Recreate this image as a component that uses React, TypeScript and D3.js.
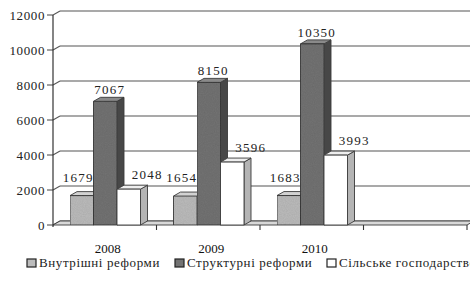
import React from "react";
import * as d3 from "d3";

const categories = ["2008", "2009", "2010", ""];
const seriesNames = ["Внутрішні реформи", "Структурні реформи", "Сільське господарство"];
const internalReforms = [1679, 1654, 1683, null];
const structuralReforms = [7067, 8150, 10350, null];
const agriculture = [2048, 3596, 3993, null];
const yTicks = [0, 2000, 4000, 6000, 8000, 10000, 12000];

const W = 470, H = 281;
const DX = 7, DY = -4;

const styles = [
  { front: "#bcbcbc", side: "#8c8c8c", top: "#d2d2d2", lx: -7, ly: -10 },
  { front: "#737373", side: "#474747", top: "#8a8a8a", lx: 1, ly: -3 },
  { front: "#ffffff", side: "#b4b4b4", top: "#eeeeee", lx: 15, ly: -6 },
];

const font = "Liberation Serif, DejaVu Serif, Times New Roman, serif";

export default function App() {
  const series = [internalReforms, structuralReforms, agriculture];
  const x = d3.scaleBand<string>().domain(categories.map((c, i) => c + "|" + i)).range([53, 467]).padding(0);
  const y = d3.scaleLinear().domain([0, 12000]).range([225, 15]);
  const bw = x.bandwidth();
  const inner = d3.scaleBand<number>().domain([0, 1, 2]).range([17, bw - 16]).padding(0);
  const keys = x.domain();
  const stroke = "#3a3a3a";

  const bars: React.ReactNode[] = [];
  const labels: React.ReactNode[] = [];
  keys.forEach((k, ci) => {
    series.forEach((vals, si) => {
      const v = vals[ci];
      if (v == null) return;
      const x0 = (x(k) as number) + (inner(si) as number);
      const w = inner.bandwidth();
      const y0 = y(0), y1 = y(v);
      const st = styles[si];
      bars.push(
        <g key={`b${ci}-${si}`} stroke={stroke} strokeWidth={0.9} strokeLinejoin="round">
          <polygon points={`${x0 + w},${y0} ${x0 + w + DX},${y0 + DY} ${x0 + w + DX},${y1 + DY} ${x0 + w},${y1}`} fill={st.side} />
          <polygon points={`${x0},${y1} ${x0 + w},${y1} ${x0 + w + DX},${y1 + DY} ${x0 + DX},${y1 + DY}`} fill={st.top} />
          <rect x={x0} y={y1} width={w} height={y0 - y1} fill={st.front} filter={si < 2 ? "url(#grain)" : undefined} />
        </g>
      );
      labels.push(
        <text key={`l${ci}-${si}`} x={x0 + w / 2 + DX / 2 + st.lx} y={y1 + DY + st.ly}
          textAnchor="middle" fontSize={13} letterSpacing={1.2} fill="#222" style={{ fontFamily: font }}>{v}</text>
      );
    });
  });

  const legendX = [27, 175, 327];

  return (
    <svg width={W} height={H} style={{ position: "absolute", left: 0, top: 0, background: "#fff", fontFamily: font }}>
      <defs>
        <filter id="grain" x="0" y="0" width="100%" height="100%">
          <feTurbulence type="fractalNoise" baseFrequency="0.9" numOctaves={2} seed={3} result="n" />
          <feColorMatrix in="n" type="matrix" values="0 0 0 0 0  0 0 0 0 0  0 0 0 0 0  0 0 0 0.18 0" result="a" />
          <feComposite in="a" in2="SourceGraphic" operator="in" result="b" />
          <feMerge>
            <feMergeNode in="SourceGraphic" />
            <feMergeNode in="b" />
          </feMerge>
        </filter>
      </defs>
      {yTicks.map((t) => (
        <g key={t} stroke="#555" strokeWidth={1.1} fill="none">
          <line x1={53 + DX} x2={W + 5} y1={y(t) + DY} y2={y(t) + DY} />
          <line x1={53} x2={53 + DX} y1={y(t)} y2={y(t) + DY} />
          <line x1={47} x2={53} y1={y(t)} y2={y(t)} />
        </g>
      ))}
      {yTicks.map((t) => (
        <text key={"t" + t} x={45} y={y(t) + 4.5} textAnchor="end" fontSize={13} letterSpacing={0.6}
          fill="#222" style={{ fontFamily: font }}>{t}</text>
      ))}
      <polygon points={`53,${y(0)} ${467},${y(0)} ${467 + DX},${y(0) + DY} ${53 + DX},${y(0) + DY}`}
        fill="#d8d8d8" stroke={stroke} strokeWidth={0.9} />
      <line x1={53} x2={53} y1={y(12000)} y2={y(0) + 2} stroke="#333" strokeWidth={1.2} />
      {keys.map((k) => (
        <line key={"xt" + k} x1={(x(k) as number) + bw} x2={(x(k) as number) + bw} y1={y(0)} y2={y(0) + 5}
          stroke="#333" strokeWidth={1.1} />
      ))}
      {bars}
      {labels}
      {keys.map((k, i) => (
        <text key={"c" + k} x={(x(k) as number) + bw / 2 + 3} y={253} textAnchor="middle" fontSize={13}
          fill="#111" style={{ fontFamily: font }}>{categories[i]}</text>
      ))}
      {seriesNames.map((n, i) => (
        <g key={n}>
          <rect x={legendX[i]} y={259} width={9} height={8} fill={styles[i].front} stroke="#222" strokeWidth={1.2} />
          <text x={legendX[i] + 12} y={267} fontSize={13} letterSpacing={0.6} fill="#222" style={{ fontFamily: font }}>{n}</text>
        </g>
      ))}
    </svg>
  );
}
